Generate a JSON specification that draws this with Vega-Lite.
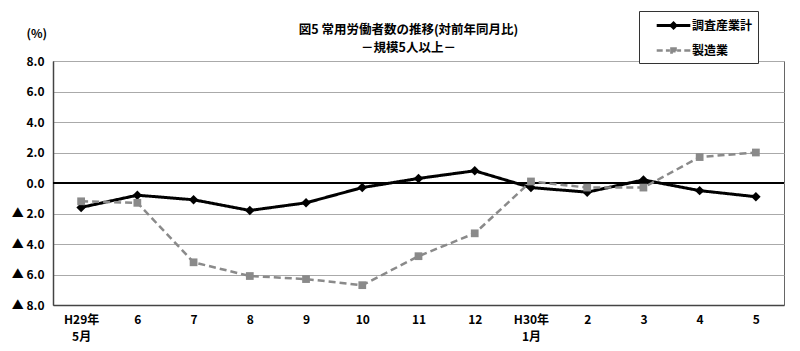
{
  "$schema": "https://vega.github.io/schema/vega-lite/v6.json",
  "width": 731,
  "height": 244,
  "autosize": {"type": "none"},
  "padding": {"left": 53, "top": 61, "right": 16, "bottom": 46},
  "background": "white",
  "config": {
    "font": "Noto Sans CJK JP",
    "view": {"stroke": "#666", "strokeWidth": 1}
  },
  "title": {
    "text": ["図5  常用労働者数の推移(対前年同月比)", "－規模5人以上－"],
    "anchor": "middle",
    "frame": "group",
    "dx": -10,
    "dy": 56,
    "offset": 12,
    "fontSize": 12.5,
    "fontWeight": "bold",
    "lineHeight": 18,
    "color": "black"
  },
  "data": {
    "values": [
      {"m": "H29年|5月", "s": "調査産業計", "v": -1.6},
      {"m": "6", "s": "調査産業計", "v": -0.8},
      {"m": "7", "s": "調査産業計", "v": -1.1},
      {"m": "8", "s": "調査産業計", "v": -1.8},
      {"m": "9", "s": "調査産業計", "v": -1.3},
      {"m": "10", "s": "調査産業計", "v": -0.3},
      {"m": "11", "s": "調査産業計", "v": 0.3},
      {"m": "12", "s": "調査産業計", "v": 0.8},
      {"m": "H30年|1月", "s": "調査産業計", "v": -0.3},
      {"m": "2", "s": "調査産業計", "v": -0.6},
      {"m": "3", "s": "調査産業計", "v": 0.2},
      {"m": "4", "s": "調査産業計", "v": -0.5},
      {"m": "5", "s": "調査産業計", "v": -0.9},
      {"m": "H29年|5月", "s": "製造業", "v": -1.2},
      {"m": "6", "s": "製造業", "v": -1.3},
      {"m": "7", "s": "製造業", "v": -5.2},
      {"m": "8", "s": "製造業", "v": -6.1},
      {"m": "9", "s": "製造業", "v": -6.3},
      {"m": "10", "s": "製造業", "v": -6.7},
      {"m": "11", "s": "製造業", "v": -4.8},
      {"m": "12", "s": "製造業", "v": -3.3},
      {"m": "H30年|1月", "s": "製造業", "v": 0.1},
      {"m": "2", "s": "製造業", "v": -0.3},
      {"m": "3", "s": "製造業", "v": -0.3},
      {"m": "4", "s": "製造業", "v": 1.7},
      {"m": "5", "s": "製造業", "v": 2.0}
    ]
  },
  "encoding": {
    "x": {
      "field": "m",
      "type": "ordinal",
      "sort": null,
      "scale": {"type": "point", "padding": 0.5},
      "axis": {
        "title": null,
        "labelAngle": 0,
        "labelExpr": "split(datum.label, '|')",
        "labelFontSize": 12,
        "labelFontWeight": "bold",
        "labelColor": "black",
        "labelPadding": 9,
        "labelLineHeight": 17,
        "ticks": false,
        "domainColor": "#444",
        "domainWidth": 1.5,
        "grid": false
      }
    },
    "y": {
      "field": "v",
      "type": "quantitative",
      "scale": {"domain": [-8, 8], "nice": false},
      "axis": {
        "values": [-8, -6, -4, -2, 0, 2, 4, 6, 8],
        "labelExpr": "datum.value < 0 ? '▲ ' + format(-datum.value, '.1f') : format(datum.value, '.1f')",
        "labelFontSize": 12,
        "labelFontWeight": "bold",
        "labelColor": "black",
        "labelPadding": 9,
        "ticks": false,
        "domainColor": "#444",
        "domainWidth": 1.5,
        "gridColor": "#aaa",
        "gridWidth": 1,
        "title": "(%)",
        "titleAngle": 0,
        "titleX": -27,
        "titleY": -28,
        "titleAlign": "left",
        "titleBaseline": "middle",
        "titleFontSize": 12,
        "titleFontWeight": "bold",
        "titleColor": "black"
      }
    }
  },
  "layer": [
    {
      "mark": {"type": "rule", "color": "black", "strokeWidth": 1.5},
      "encoding": {"y": {"datum": 0}, "x": null}
    },
    {
      "mark": {"type": "line"},
      "encoding": {
        "color": {
          "field": "s",
          "type": "nominal",
          "sort": ["調査産業計", "製造業"],
          "scale": {"domain": ["調査産業計", "製造業"], "range": ["black", "#8a8a8a"]},
          "legend": {
            "title": null,
            "orient": "none",
            "legendX": 586,
            "legendY": -50,
            "direction": "vertical",
            "strokeColor": "#333",
            "fillColor": "white",
            "padding": 5,
            "rowPadding": 7,
            "labelFontSize": 12,
            "labelFontWeight": "bold",
            "labelColor": "black",
            "labelOffset": 9,
            "symbolType": "stroke",
            "symbolSize": 256,
            "symbolOffset": 20,
            "symbolStrokeWidth": 3,
            "symbolOpacity": 1,
            "encode": {
              "symbols": {
                "update": {
                  "shape": {"signal": "datum.value === '調査産業計' ? 'M-2.1,0H2.1M0,-0.3L0.3,0L0,0.3L-0.3,0Z' : 'M-2.1,0H-1.35M-0.95,0H-0.45M-0.26,-0.26H0.26V0.26H-0.26ZM0.45,0H0.95M1.35,0H2.1'"},
                  "fill": {"signal": "datum.value === '調査産業計' ? 'black' : '#8a8a8a'"},
                  "stroke": {"signal": "datum.value === '調査産業計' ? 'black' : '#8a8a8a'"},
                  "strokeWidth": {"value": 3},
                  "strokeDash": {"value": [1, 0]},
                  "opacity": {"value": 1}
                }
              }
            }
          }
        },
        "strokeDash": {
          "field": "s",
          "type": "nominal",
          "scale": {"domain": ["調査産業計", "製造業"], "range": [[1, 0], [7, 4]]},
          "legend": null
        },
        "strokeWidth": {
          "field": "s",
          "type": "nominal",
          "scale": {"domain": ["調査産業計", "製造業"], "range": [3, 2.5]},
          "legend": null
        }
      }
    },
    {
      "transform": [{"filter": "datum.s === '調査産業計'"}],
      "mark": {"type": "point", "filled": true, "opacity": 1, "shape": "diamond", "size": 90, "color": "black"}
    },
    {
      "transform": [{"filter": "datum.s === '製造業'"}],
      "mark": {"type": "point", "filled": true, "opacity": 1, "shape": "square", "size": 60, "color": "#8a8a8a"}
    }
  ]
}
